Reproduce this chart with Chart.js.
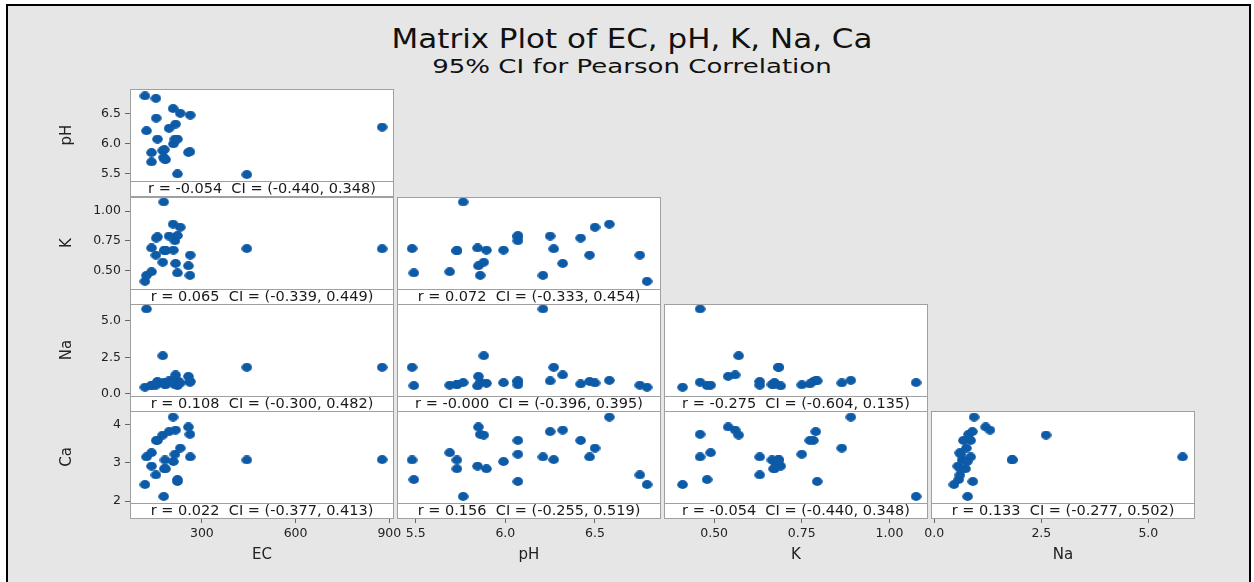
<!DOCTYPE html>
<html>
<head>
<meta charset="utf-8">
<title>Matrix Plot of EC, pH, K, Na, Ca</title>
<script src="https://cdn.jsdelivr.net/npm/chart.js@4.4.1/dist/chart.umd.min.js"></script>
<style>
  html, body { margin: 0; padding: 0; background: #fff; }
  body { width: 1254px; height: 582px; overflow: hidden; position: relative; font-family: "DejaVu Sans", sans-serif; }
  #frame { position: absolute; left: 6px; top: 4px; width: 1241px; height: 600px; border: 2px solid #000; background: #e6e6e6; }
  .head { position: absolute; left: 0; width: 1264px; text-align: center; color: #111; white-space: nowrap; }
  #title { top: 24px; font-size: 26px; transform: scaleX(1.19); }
  #subtitle { top: 55px; font-size: 19px; transform: scaleX(1.37); }
  #matrix canvas { position: absolute; }
</style>
</head>
<body>
<div id="frame"></div>
<div id="title" class="head">Matrix Plot of EC, pH, K, Na, Ca</div>
<div id="subtitle" class="head">95% CI for Pearson Correlation</div>
<div id="matrix"></div>

<script>
// one entry per sample
const ecValues = [118, 262, 123, 139, 222, 257, 216, 175, 263, 153, 182, 444, 139, 180, 184, 178, 209, 158, 214, 222, 195, 877, 154, 231, 208];
const phValues = [6.79, 5.86, 6.21, 5.69, 5.49, 5.85, 6.32, 5.88, 6.47, 6.75, 5.73, 5.48, 5.845, 5.895, 5.73, 5.765, 5.99, 6.07, 6.07, 6.07, 6.25, 6.27, 6.42, 6.50, 6.58];
const kValues  = [0.41, 0.46, 0.46, 0.49, 0.48, 0.54, 0.56, 0.57, 0.63, 0.63, 0.665, 0.685, 0.69, 0.672, 0.67, 1.076, 0.672, 0.783, 0.75, 0.794, 0.79, 0.683, 0.773, 0.864, 0.89];
const naValues = [0.46, 0.80, 5.80, 0.60, 0.57, 1.20, 1.30, 2.61, 0.85, 0.60, 0.65, 1.82, 0.55, 0.73, 0.62, 0.78, 0.77, 0.85, 0.62, 0.90, 0.89, 1.82, 0.68, 0.75, 0.93];
const caValues = [2.43, 3.74, 3.15, 3.26, 2.56, 3.93, 3.85, 3.72, 3.15, 2.68, 3.07, 3.07, 2.91, 2.84, 2.84, 2.12, 3.03, 3.58, 3.22, 2.51, 3.81, 3.08, 3.58, 3.38, 4.19];

// tick labels
const ecTicks = [300, 600, 900];
const phTicks = [5.5, 6.0, 6.5];
const kTicks  = [0.50, 0.75, 1.00];
const naTicks = [0.0, 2.5, 5.0];
const caTicks = [2, 3, 4];

// Pearson r with 95% CI, lower triangle in reading order
const pearsonR = ["-0.054", "0.065", "0.072", "0.108", "-0.000", "-0.275", "0.022", "0.156", "-0.054", "0.133"];
const ciLower  = ["-0.440", "-0.339", "-0.333", "-0.300", "-0.396", "-0.604", "-0.377", "-0.255", "-0.440", "-0.277"];
const ciUpper  = ["0.348", "0.449", "0.454", "0.482", "0.395", "0.135", "0.413", "0.519", "0.348", "0.502"];

const variables = [
  { name: "EC", values: ecValues, ticks: ecTicks, digits: 0, xRange: [70, 915] },
  { name: "pH", values: phValues, ticks: phTicks, digits: 1, xRange: [5.396, 6.868], yRange: [5.372, 6.905] },
  { name: "K",  values: kValues,  ticks: kTicks,  digits: 2, xRange: [0.357, 1.110], yRange: [0.345, 1.118] },
  { name: "Na", values: naValues, ticks: naTicks, digits: 1, xRange: [-0.077, 6.09], yRange: [-0.14, 6.14] },
  { name: "Ca", values: caValues, ticks: caTicks, digits: 0, yRange: [1.948, 4.347] }
];

// layout
const colLeft = [130, 397, 664, 931];
const rowTop = [89, 197, 304, 411];
const PANEL_W = 264;
const PANEL_H = 92;
const STRIP_H = 16;
const Y_AXIS_W = 75;
const X_AXIS_H = 62;
const SIDE = 16;
const FONT = '"DejaVu Sans", sans-serif';
const DOT = "#0d5aa7";
const FRAME = "#a0a0a0";

// slightly wide dot, like the original markers
const dot = document.createElement("canvas");
dot.width = 11; dot.height = 9;
(() => {
  const c = dot.getContext("2d");
  c.fillStyle = DOT;
  c.beginPath();
  c.ellipse(5.5, 4.5, 5.3, 4.4, 0, 0, Math.PI * 2);
  c.fill();
})();

const panelFrame = {
  id: "panelFrame",
  beforeDraw(chart) {
    const { ctx, chartArea: a } = chart;
    ctx.save();
    ctx.fillStyle = "#fff";
    ctx.fillRect(a.left, a.top, a.right - a.left, a.bottom - a.top);
    ctx.restore();
  },
  afterDraw(chart, args, opts) {
    const { ctx, chartArea: a } = chart;
    const w = a.right - a.left;
    ctx.save();
    ctx.fillStyle = "#fff";
    ctx.fillRect(a.left, a.bottom, w, STRIP_H);
    ctx.strokeStyle = FRAME;
    ctx.lineWidth = 1;
    ctx.strokeRect(a.left + 0.5, a.top + 0.5, w - 1, a.bottom - a.top);
    ctx.strokeRect(a.left + 0.5, a.bottom + 0.5, w - 1, STRIP_H - 1);
    ctx.fillStyle = "#1a1a1a";
    ctx.font = "14.5px " + FONT;
    ctx.textAlign = "center";
    ctx.textBaseline = "middle";
    ctx.fillText(opts.text, a.left + w / 2, a.bottom + STRIP_H / 2 + 0.5);
    ctx.restore();
  }
};

function makePanel(row, col, idx) {
  const xVar = variables[col];
  const yVar = variables[row + 1];
  const leftAxis = col === 0;
  const bottomAxis = row === 3;
  const padLeft = leftAxis ? 0 : (bottomAxis ? SIDE : 0);
  const padRight = bottomAxis ? SIDE : 0;

  const canvas = document.createElement("canvas");
  canvas.width = PANEL_W + (leftAxis ? Y_AXIS_W : padLeft) + padRight;
  canvas.height = PANEL_H + (bottomAxis ? X_AXIS_H : STRIP_H);
  canvas.style.left = (colLeft[col] - (leftAxis ? Y_AXIS_W : padLeft)) + "px";
  canvas.style.top = rowTop[row] + "px";
  document.getElementById("matrix").appendChild(canvas);

  const points = xVar.values.map((v, i) => ({ x: v, y: yVar.values[i] }));
  const label = `r = ${pearsonR[idx]}  CI = (${ciLower[idx]}, ${ciUpper[idx]})`;

  new Chart(canvas, {
    type: "scatter",
    data: {
      datasets: [{
        data: points,
        pointStyle: dot,
        pointRadius: 5,
        backgroundColor: DOT,
        borderWidth: 0
      }]
    },
    options: {
      responsive: false,
      animation: false,
      devicePixelRatio: 1,
      events: [],
      layout: {
        autoPadding: false,
        padding: { left: padLeft, right: padRight, top: 0, bottom: bottomAxis ? 0 : STRIP_H }
      },
      plugins: {
        legend: { display: false },
        tooltip: { enabled: false },
        panelFrame: { text: label }
      },
      scales: {
        x: {
          type: "linear",
          min: xVar.xRange[0],
          max: xVar.xRange[1],
          display: bottomAxis,
          afterBuildTicks: s => { s.ticks = xVar.ticks.map(v => ({ value: v })); },
          afterFit: s => {
            if (bottomAxis) s.height = X_AXIS_H;
            s.paddingLeft = 0; s.paddingRight = 0;
          },
          grid: { drawOnChartArea: false, tickLength: STRIP_H + 4, color: "#666" },
          border: { display: false },
          ticks: {
            autoSkip: false, maxRotation: 0, minRotation: 0, padding: 3,
            color: "#222", font: { family: FONT, size: 12.5 },
            callback: v => v.toFixed(xVar.digits)
          },
          title: { display: true, text: xVar.name, color: "#222", font: { family: FONT, size: 15 }, padding: { top: 0, bottom: 1 } }
        },
        y: {
          type: "linear",
          min: yVar.yRange[0],
          max: yVar.yRange[1],
          display: leftAxis,
          afterBuildTicks: s => { s.ticks = yVar.ticks.map(v => ({ value: v })); },
          afterFit: s => {
            if (leftAxis) s.width = Y_AXIS_W;
            s.paddingTop = 0; s.paddingBottom = 0;
          },
          grid: { drawOnChartArea: false, tickLength: 5, color: "#666" },
          border: { display: false },
          ticks: {
            autoSkip: false, padding: 4,
            color: "#222", font: { family: FONT, size: 12.5 },
            callback: v => v.toFixed(yVar.digits)
          },
          title: { display: true, text: yVar.name, color: "#222", font: { family: FONT, size: 15 }, padding: { top: 3, bottom: 0 } }
        }
      }
    },
    plugins: [panelFrame]
  });
}

let idx = 0;
for (let row = 0; row < 4; row++) {
  for (let col = 0; col <= row; col++) {
    makePanel(row, col, idx++);
  }
}
</script>
</body>
</html>
